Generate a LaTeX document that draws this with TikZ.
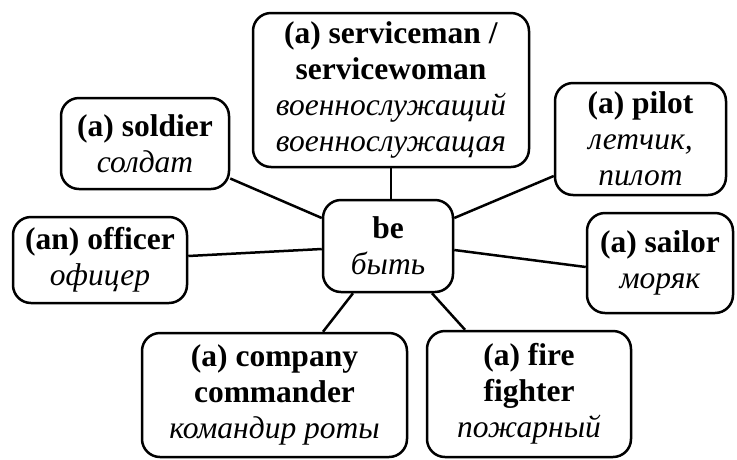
\documentclass[tikz,border=0pt]{standalone}
\usepackage{fontspec}
\setmainfont{Liberation Serif}
\begin{document}
\begin{tikzpicture}[x=1pt,y=-1pt,
  wbox/.style={draw=black, line width=2.5pt, rounded corners=18pt, fill=white,
    align=center, inner sep=0pt, font=\fontsize{31.5}{36}\selectfont},
  conn/.style={line width=2.5pt}]
\useasboundingbox[fill=white] (0,0) rectangle (737,459);
\node[wbox, minimum width=276pt, minimum height=154pt] (serv) at (391,90)
  {\textbf{(a) serviceman /}\\\textbf{servicewoman}\\\textit{военнослужащий}\\\textit{военнослужащая}};
\node[wbox, minimum width=168pt, minimum height=91pt] (sold) at (145,143.5)
  {\textbf{(a) soldier}\\\textit{солдат}};
\node[wbox, minimum width=171pt, minimum height=112pt] (pilot) at (640.5,139)
  {\textbf{(a) pilot}\\\textit{летчик,}\\\textit{пилот}};
\node[wbox, minimum width=174pt, minimum height=86pt] (off) at (100,260)
  {\textbf{(an) officer}\\\textit{офицер}};
\node[wbox, minimum width=130pt, minimum height=92pt] (cen) at (388,246)
  {\textbf{be}\\\textit{быть}};
\node[wbox, minimum width=146pt, minimum height=100pt] (sail) at (660,263)
  {\textbf{(a) sailor}\\\textit{моряк}};
\node[wbox, minimum width=265pt, minimum height=124pt] (comp) at (274.5,395)
  {\textbf{(a) company}\\\textbf{commander}\\\textit{командир роты}};
\node[wbox, minimum width=204pt, minimum height=126pt] (fire) at (529,394)
  {\textbf{(a) fire}\\\textbf{fighter}\\\textit{пожарный}};
\begin{scope}[on background layer/.style={}]
\draw[conn] (serv.south) -- (serv.south |- cen.north);
\draw[conn] ([yshift=-35pt]sold.east) -- ([yshift=28pt]cen.west);
\draw[conn] ([yshift=4pt]off.east) -- ([yshift=-3pt]cen.west);
\draw[conn] ([yshift=-37pt]pilot.west) -- ([yshift=28pt]cen.east);
\draw[conn] ([yshift=-4pt]cen.east) -- ([yshift=-4pt]sail.west);
\draw[conn] ([xshift=48.5pt]comp.north) -- ([xshift=-35pt]cen.south);
\draw[conn] ([xshift=-64pt]fire.north) -- ([xshift=44pt]cen.south);
\end{scope}
\end{tikzpicture}
\end{document}
